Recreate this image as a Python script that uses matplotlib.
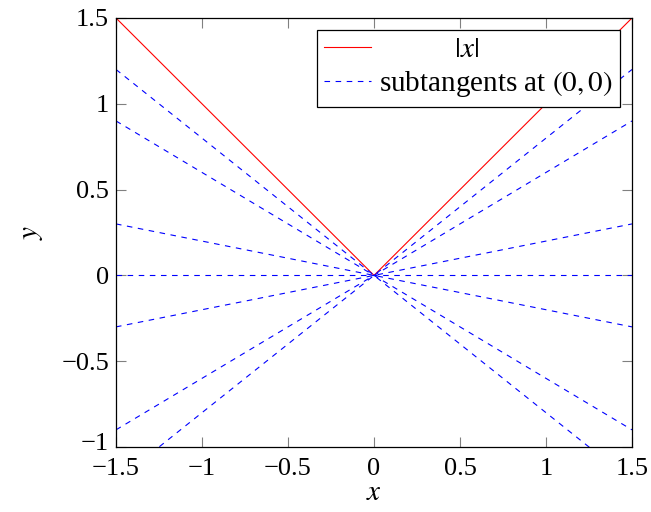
import numpy as np
import matplotlib
matplotlib.use("Agg")
import matplotlib.pyplot as plt
import matplotlib.transforms as mtransforms

plt.rcParams['font.family'] = ['Liberation Serif', 'DejaVu Serif']
plt.rcParams['mathtext.fontset'] = 'stix'

x_range = [-1.5, 1.5]
slopes = [-0.8, -0.6, -0.2, 0.0, 0.2, 0.6, 0.8]
xticks = [-1.5, -1, -0.5, 0, 0.5, 1, 1.5]
yticks = [-1, -0.5, 0, 0.5, 1, 1.5]

fig = plt.figure(figsize=(6.51, 5.12), dpi=100)
ax = fig.add_axes([116/651, 1-447/512, (632-116)/651, (447-18)/512])

xs = np.array([-1.5, 0.0, 1.5])
ax.plot(xs, np.abs(xs), color='red', lw=0.8, label=r'$\hspace{3.6}|x|$')
for i, m in enumerate(slopes):
    ax.plot(x_range, [m*x_range[0], m*x_range[1]], color='blue', lw=0.8,
            dashes=(5, 5), label='subtangents at $(0,0)$' if i == 0 else None)

ax.set_xlim(-1.5, 1.5)
ax.set_ylim(-1, 1.5)

def fmt(v):
    s = ('%g' % v)
    return s.replace('-', '\u2212')

ax.set_xticks(xticks)
ax.set_xticklabels([fmt(v) for v in xticks])
ax.set_yticks(yticks)
ax.set_yticklabels([fmt(v) for v in yticks])
ax.tick_params(direction='in', length=7, width=0.8, color='gray',
               top=True, right=True, labelsize=19, pad=5)
ax.tick_params(axis='x', pad=8)
for s in ax.spines.values():
    s.set_linewidth(0.9)

# nudge the lowest y tick label up slightly so it does not collide with the x label
lowest = ax.get_yticklabels()[0]
lowest.set_transform(lowest.get_transform() +
                     mtransforms.ScaledTranslation(0, 5/100, fig.dpi_scale_trans))

ax.set_xlabel(r'$x$', fontsize=21, labelpad=0)
ax.set_ylabel(r'$y$', fontsize=21, labelpad=12)

leg = ax.legend(loc='upper right', fontsize=21, fancybox=False, framealpha=1,
                edgecolor='black', handlelength=1.6, handletextpad=0.3,
                borderaxespad=0.4, borderpad=0.25, labelspacing=0.2)
leg.get_frame().set_linewidth(0.9)

fig.savefig('out.png', dpi=100)
